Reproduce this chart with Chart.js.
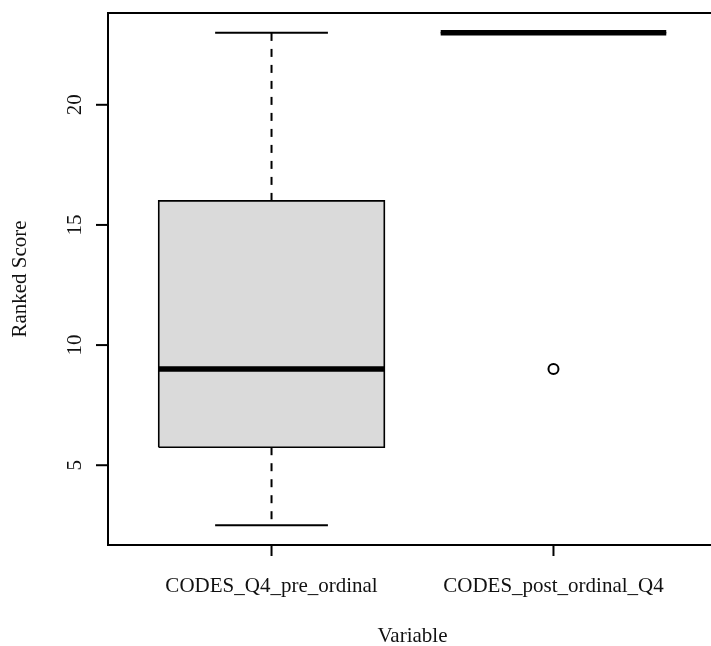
<!DOCTYPE html>
<html>
<head>
<meta charset="utf-8">
<script src="https://cdn.jsdelivr.net/npm/chart.js@4/dist/chart.umd.min.js"></script>
<style>
  html, body { margin: 0; padding: 0; background: #fff; overflow: hidden; }
  canvas { display: block; }
</style>
</head>
<body>
<canvas id="box" width="730" height="646"></canvas>
<script>
// Five-number summaries per variable
const categories = ['CODES_Q4_pre_ordinal', 'CODES_post_ordinal_Q4'];
const lowerWhisker = [2.5, 23];
const lowerQuartile = [5.75, 23];
const medians = [9, 23];
const upperQuartile = [16, 23];
const upperWhisker = [23, 23];
const outliers = [[], [9]];
const yTicks = [5, 10, 15, 20];
const xTitle = 'Variable';
const yTitle = 'Ranked Score';

const BOX_HALF = 0.4;    // half box width in x units
const CAP_HALF = 0.2;    // half whisker-cap width
const FONT = '21px "Liberation Serif", "DejaVu Serif", serif';

const datasets = [];
categories.forEach((cat, i) => {
  const x = i + 1;
  // box (filled rectangle)
  datasets.push({
    type: 'line', order: 5,
    data: [
      {x: x - BOX_HALF, y: lowerQuartile[i]}, {x: x + BOX_HALF, y: lowerQuartile[i]},
      {x: x + BOX_HALF, y: upperQuartile[i]}, {x: x - BOX_HALF, y: upperQuartile[i]},
      {x: x - BOX_HALF, y: lowerQuartile[i]}
    ],
    borderColor: '#000', borderWidth: 1.6, backgroundColor: '#dadada',
    fill: 'shape', pointRadius: 0, tension: 0, borderJoinStyle: 'miter'
  });
  // whiskers, dashed, drawn outward from the box
  [[upperQuartile[i], upperWhisker[i]], [lowerQuartile[i], lowerWhisker[i]]].forEach(([from, to]) => {
    datasets.push({
      type: 'line', order: 4,
      data: [{x: x, y: from}, {x: x, y: to}],
      borderColor: '#000', borderWidth: 2, borderDash: [8, 8],
      borderCapStyle: 'butt', pointRadius: 0, fill: false
    });
  });
  // whisker caps
  [lowerWhisker[i], upperWhisker[i]].forEach(v => {
    datasets.push({
      type: 'line', order: 3,
      data: [{x: x - CAP_HALF, y: v}, {x: x + CAP_HALF, y: v}],
      borderColor: '#000', borderWidth: 2, pointRadius: 0, fill: false
    });
  });
  // median
  datasets.push({
    type: 'line', order: 2,
    data: [{x: x - BOX_HALF, y: medians[i]}, {x: x + BOX_HALF, y: medians[i]}],
    borderColor: '#000', borderWidth: 5.5, borderCapStyle: 'butt',
    pointRadius: 0, fill: false
  });
  // outliers
  if (outliers[i].length) {
    datasets.push({
      type: 'scatter', order: 1,
      data: outliers[i].map(v => ({x: x, y: v})),
      pointStyle: 'circle', pointRadius: 5, pointBorderWidth: 2,
      pointBorderColor: '#000', pointBackgroundColor: '#fff'
    });
  }
});

// R-style frame, ticks and labels drawn from the chart scales
const axesPlugin = {
  id: 'baseAxes',
  afterDraw(chart) {
    const {ctx, chartArea: a, scales: {x, y}} = chart;
    ctx.save();
    ctx.strokeStyle = '#000';
    ctx.lineWidth = 2;
    ctx.strokeRect(a.left, a.top, a.right - a.left, a.bottom - a.top);

    ctx.fillStyle = '#111';
    ctx.font = FONT;
    // x ticks and category labels
    ctx.textAlign = 'center';
    ctx.textBaseline = 'middle';
    categories.forEach((cat, i) => {
      const px = x.getPixelForValue(i + 1);
      ctx.beginPath();
      ctx.moveTo(px, a.bottom);
      ctx.lineTo(px, a.bottom + 11);
      ctx.stroke();
      ctx.fillText(cat, px, a.bottom + 41);
    });
    // y ticks with rotated labels
    yTicks.forEach(v => {
      const py = y.getPixelForValue(v);
      ctx.beginPath();
      ctx.moveTo(a.left, py);
      ctx.lineTo(a.left - 12, py);
      ctx.stroke();
      ctx.save();
      ctx.translate(a.left - 33, py);
      ctx.rotate(-Math.PI / 2);
      ctx.fillText(String(v), 0, 0);
      ctx.restore();
    });
    // axis titles
    ctx.fillText(xTitle, (a.left + a.right) / 2, a.bottom + 91);
    ctx.save();
    ctx.translate(20, (a.top + a.bottom) / 2);
    ctx.rotate(-Math.PI / 2);
    ctx.fillText(yTitle, 0, 0);
    ctx.restore();
    ctx.restore();
  }
};

new Chart(document.getElementById('box'), {
  type: 'line',
  data: { datasets },
  options: {
    responsive: false,
    animation: false,
    devicePixelRatio: 1,
    layout: { padding: { left: 108, right: 13, top: 13, bottom: 101 } },
    plugins: { legend: { display: false }, tooltip: { enabled: false } },
    scales: {
      x: { type: 'linear', min: 0.42, max: 2.58, display: false },
      y: { type: 'linear', min: 1.68, max: 23.82, display: false }
    }
  },
  plugins: [axesPlugin]
});
</script>
</body>
</html>
